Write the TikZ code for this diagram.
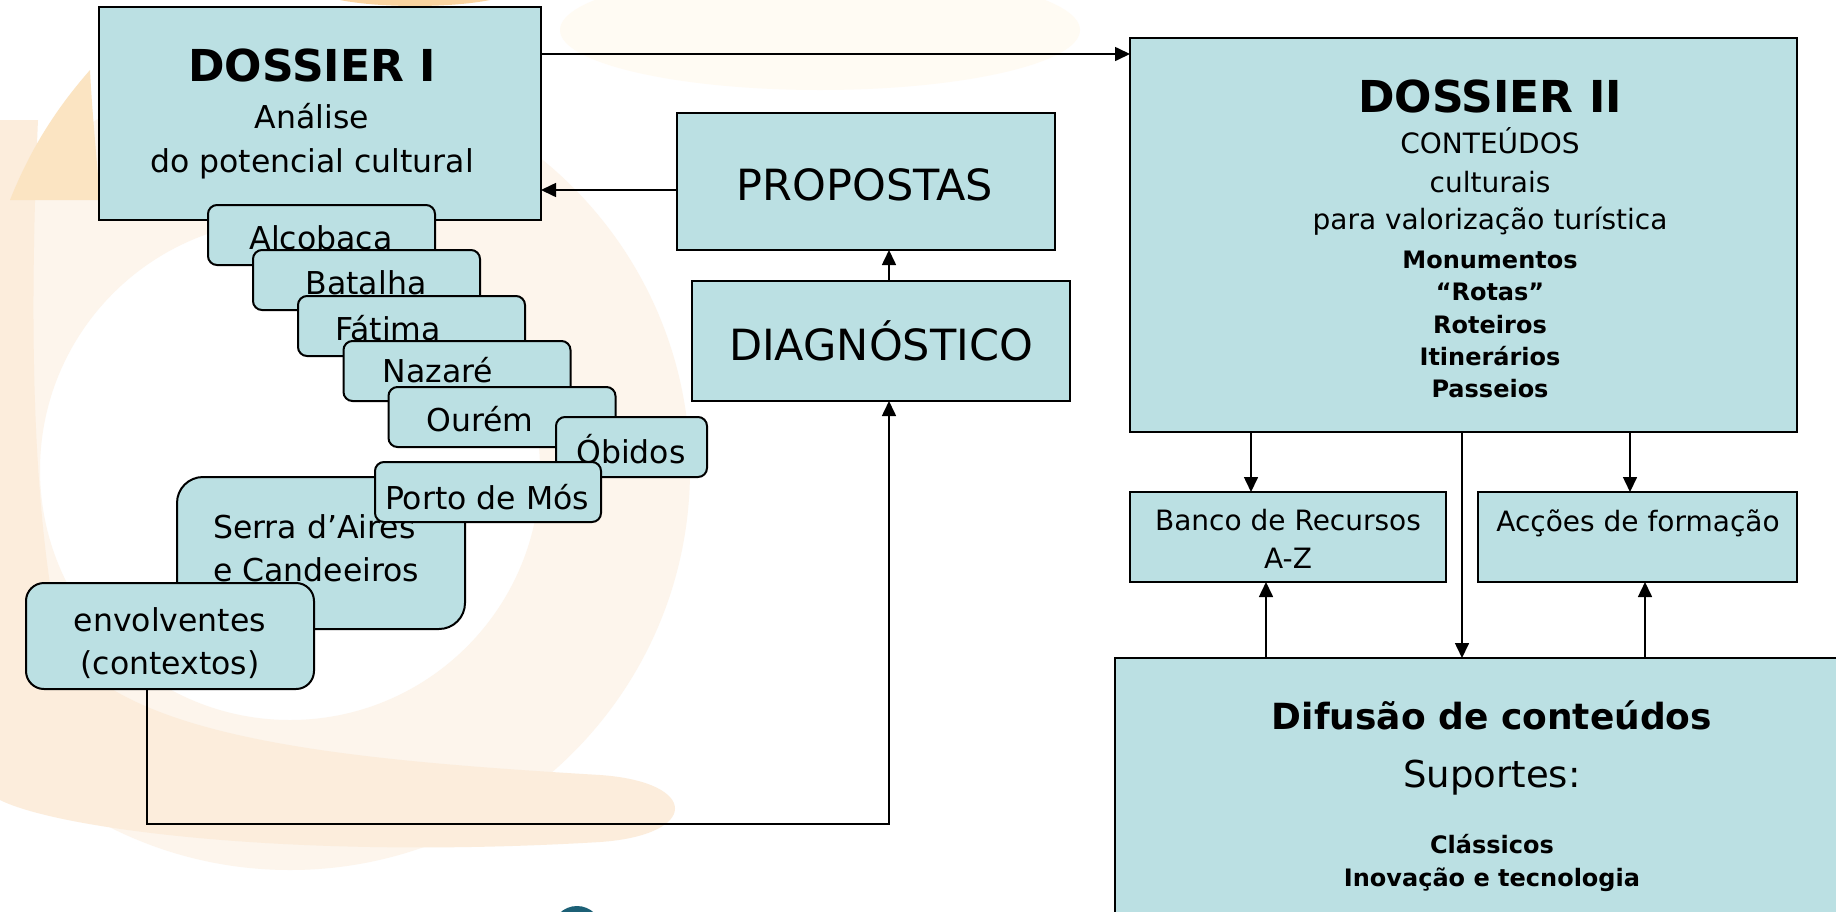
\documentclass[tikz,border=0pt]{standalone}
\usepackage{fontspec}
\setmainfont{DejaVu Sans}
\usetikzlibrary{arrows.meta}
\definecolor{boxc}{RGB}{187,224,227}
\definecolor{wmA}{RGB}{253,245,236}
\definecolor{wmD}{RGB}{252,237,220}
\definecolor{wmB}{RGB}{251,228,194}
\definecolor{wmT}{RGB}{249,212,160}
\definecolor{wmC}{RGB}{255,251,243}
\definecolor{tealdot}{RGB}{28,96,118}
\begin{document}
\begin{tikzpicture}[x=1pt,y=-1pt,
  box/.style={draw=black, line width=2pt, fill=boxc, inner sep=0pt, outer sep=0pt},
  rbox/.style={box, rounded corners=9pt},
  lbl/.style={anchor=base, inner sep=0pt, outer sep=0pt},
  tTitle/.style={lbl, font=\fontsize{44}{50}\selectfont\bfseries},
  tLarge/.style={lbl, font=\fontsize{43}{50}\selectfont},
  tMid/.style={lbl, font=\fontsize{31.5}{38}\selectfont},
  tSmall/.style={lbl, font=\fontsize{28}{33}\selectfont},
  tBoldS/.style={lbl, font=\fontsize{24}{28}\selectfont\bfseries},
  tDif/.style={lbl, font=\fontsize{36}{42}\selectfont\bfseries},
  tSup/.style={lbl, font=\fontsize{37}{42}\selectfont},
  conn/.style={line width=1.6pt, draw=black},
  arr/.style={conn, -{Triangle[length=15pt,width=14pt]}}
]
\useasboundingbox (0,0) rectangle (1836,911);
\clip (0,0) rectangle (1836,911);
\fill[white] (0,0) rectangle (1836,911);

% faint watermark
\fill[wmC] (820,30) ellipse [x radius=260pt, y radius=60pt];
\fill[wmA, even odd rule] (290,470) ellipse [x radius=400pt, y radius=400pt]
      (290,470) ellipse [x radius=250pt, y radius=250pt];
\fill[wmD] (0,120) -- (38,120) .. controls (30,300) and (30,500) .. (60,640)
      .. controls (120,740) and (350,760) .. (600,775)
      .. controls (700,782) and (700,835) .. (600,842)
      .. controls (300,860) and (60,830) .. (0,800) -- cycle;
\fill[wmB] (10,200) .. controls (30,150) and (55,110) .. (90,70)
      .. controls (92,110) and (96,150) .. (100,200) -- cycle;
\fill[wmT] (340,0) .. controls (380,8) and (450,8) .. (490,0) -- cycle;
\fill[tealdot] (577,931) circle [radius=25pt];

% DOSSIER I
\node[box, minimum width=442pt, minimum height=213pt] (d1) at (320,113.5) {};
\node[tTitle] (d1a) at (312,81) {DOSSIER I};
\node[tMid] (d1b) at (312,128) {Análise};
\node[tMid] (d1c) at (312,172) {do potencial cultural};

% stacked places
\node[rbox, minimum width=227pt, minimum height=60pt] (alc) at (321.5,235) {};
\node[tMid] (alct) at (321,249) {Alcobaca};
\node[rbox, minimum width=227pt, minimum height=60pt] (bat) at (366.5,280) {};
\node[tMid] (batt) at (366,294) {Batalha};
\node[rbox, minimum width=227pt, minimum height=60pt] (fat) at (411.5,326) {};
\node[tMid] (fatt) at (388,340) {Fátima};
\node[rbox, minimum width=227pt, minimum height=60pt] (naz) at (457,371) {};
\node[tMid] (nazt) at (438,382) {Nazaré};
\node[rbox, minimum width=227pt, minimum height=60pt] (our) at (502,417) {};
\node[tMid] (ourt) at (480,431) {Ourém};
\node[rbox, minimum width=151pt, minimum height=60pt] (obi) at (631.5,447) {};
\node[tMid] (obit) at (631,463) {Óbidos};
\node[box, rounded corners=26pt, minimum width=288pt, minimum height=152pt] (ser) at (321,553) {};
\node[tMid, anchor=base west] (sert1) at (213,538) {Serra d’Aires};
\node[tMid, anchor=base west] (sert2) at (213,581) {e Candeeiros};
\node[rbox, minimum width=226pt, minimum height=60pt] (por) at (488,492) {};
\node[tMid] (port) at (487,509) {Porto de Mós};
\node[box, rounded corners=18pt, minimum width=288pt, minimum height=106pt] (env) at (170,636) {};
\node[tMid] (envt1) at (170,631) {envolventes};
\node[tMid] (envt2) at (170,674) {(contextos)};

% PROPOSTAS / DIAGNOSTICO
\node[box, minimum width=378pt, minimum height=137pt] (prop) at (866,181.5) {};
\node[tLarge] (propt) at (865,200) {PROPOSTAS};
\node[box, minimum width=378pt, minimum height=120pt] (diag) at (881,341) {};
\node[tLarge] (diagt) at (881,360) {DIAGNÓSTICO};

% DOSSIER II
\node[box, minimum width=667pt, minimum height=394pt] (d2) at (1463.5,235) {};
\node[tTitle] (d2a) at (1490,112) {DOSSIER II};
\node[tSmall] (d2b) at (1490,153) {CONTEÚDOS};
\node[tSmall] (d2c) at (1490,192) {culturais};
\node[tSmall] (d2d) at (1490,229) {para valorização turística};
\node[tBoldS] (d2e) at (1490,268) {Monumentos};
\node[tBoldS] (d2f) at (1490,300) {“Rotas”};
\node[tBoldS] (d2g) at (1490,333) {Roteiros};
\node[tBoldS] (d2h) at (1490,365) {Itinerários};
\node[tBoldS] (d2i) at (1490,397) {Passeios};

% Banco / Accoes
\node[box, minimum width=316pt, minimum height=90pt] (banco) at (1288,537) {};
\node[tSmall] (bancot1) at (1288,530) {Banco de Recursos};
\node[tSmall] (bancot2) at (1288,568) {A-Z};
\node[box, minimum width=319pt, minimum height=90pt] (acc) at (1637.5,537) {};
\node[tSmall] (acct) at (1638,531) {Acções de formação};

% Difusao
\node[box, minimum width=745pt, minimum height=272pt] (dif) at (1487.5,794) {};
\node[tDif] (dift1) at (1492,729) {Difusão de conteúdos};
\node[tSup] (dift2) at (1492,787) {Suportes:};
\node[tBoldS] (dift3) at (1492,853) {Clássicos};
\node[tBoldS] (dift4) at (1492,886) {Inovação e tecnologia};

% connector guide coordinates
\coordinate (yA) at (0,54);
\coordinate (yB) at (0,190);
\coordinate (xC) at (889,0);
\coordinate (xD) at (147,0);
\coordinate (yE) at (0,824);
\coordinate (xB1) at (1251,0);
\coordinate (xB2) at (1266,0);
\coordinate (xM) at (1462,0);
\coordinate (xA1) at (1630,0);
\coordinate (xA2) at (1645,0);

% connectors
\draw[arr] (d1.east |- yA) -- (d2.west |- yA);
\draw[arr] (prop.west |- yB) -- (d1.east |- yB);
\draw[arr] (diag.north -| xC) -- (prop.south -| xC);
\draw[arr] (env.south -| xD) -- (xD |- yE) -- (xC |- yE) -- (diag.south -| xC);
\draw[arr] (d2.south -| xB1) -- (banco.north -| xB1);
\draw[arr] (d2.south -| xA1) -- (acc.north -| xA1);
\draw[arr] (d2.south -| xM) -- (dif.north -| xM);
\draw[arr] (dif.north -| xB2) -- (banco.south -| xB2);
\draw[arr] (dif.north -| xA2) -- (acc.south -| xA2);
\end{tikzpicture}
\end{document}
